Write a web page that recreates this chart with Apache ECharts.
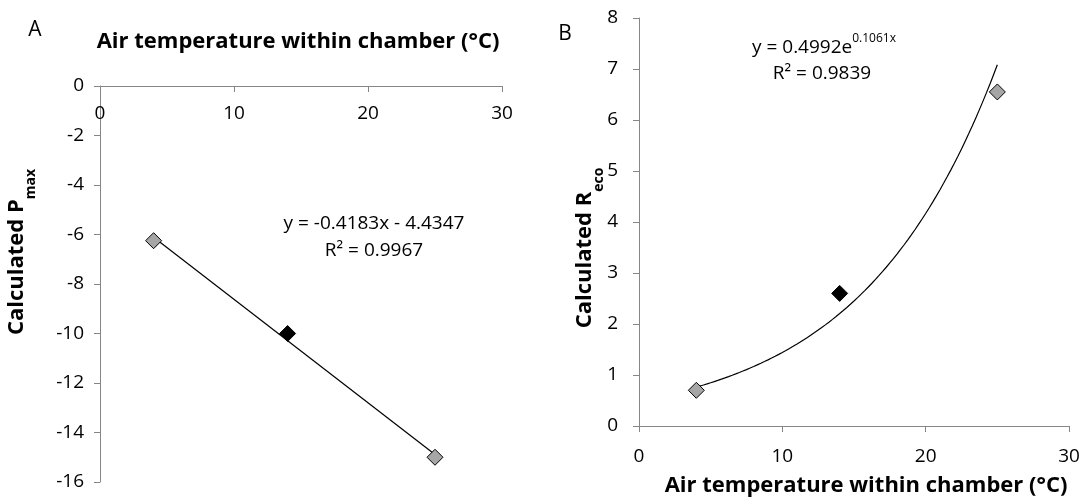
<!DOCTYPE html>
<html>
<head>
<meta charset="utf-8">
<script src="https://cdn.jsdelivr.net/npm/echarts@6/dist/echarts.min.js"></script>
<style>
  html, body { margin: 0; padding: 0; background: #ffffff; }
  #chart { width: 1083px; height: 502px; }
</style>
</head>
<body>
<div id="chart"></div>
<script>
// Panel A: calculated Pmax against air temperature within the chamber
const tempA = [4, 14, 25];
const pmaxA = [-6.25, -10, -15];
// Panel B: calculated Reco against air temperature within the chamber
const tempB = [4, 14, 25];
const recoB = [0.7, 2.6, 6.55];
// the middle treatment is drawn as a filled black diamond
const isHighlighted = [false, true, false];

// axis ranges
const xRange = { min: 0, max: 30, interval: 10 };
const yRangeA = { min: -16, max: 0, interval: 2 };
const yRangeB = { min: 0, max: 8, interval: 1 };

// fitted trend lines, as given by their equation labels
const linSlopeA = -0.4183;
const linInterceptA = -4.4347;
const r2A = '0.9967';
const expCoefB = 0.4992;
const expRateB = 0.1061;
const r2B = '0.9839';

const FONT = 'Open Sans';
const AXIS_GREY = '#868686';
const GREY_FILL = '#a6a6a6';

function pointData(xs, ys) {
  return xs.map((x, i) => ({
    value: [x, ys[i]],
    itemStyle: {
      color: isHighlighted[i] ? '#000000' : GREY_FILL,
      borderColor: '#000000',
      borderWidth: 1,
      opacity: 1
    }
  }));
}

// linear fit across the observed temperature span
const xLo = Math.min(...tempA), xHi = Math.max(...tempA);
const trendA = [xLo, xHi].map(x => [x, linSlopeA * x + linInterceptA]);

// exponential fit sampled across the observed temperature span
const trendB = [];
const bLo = Math.min(...tempB), bHi = Math.max(...tempB);
for (let k = 0; k <= 84; k++) {
  const x = bLo + (bHi - bLo) * k / 84;
  trendB.push([x, expCoefB * Math.exp(expRateB * x)]);
}

const tickLabel = { color: '#000000', fontFamily: FONT, fontSize: 19 };

const chart = echarts.init(document.getElementById('chart'), null, { renderer: 'canvas' });

chart.setOption({
  animation: false,
  backgroundColor: '#ffffff',
  grid: [
    { left: 100, top: 86, width: 402, height: 396, containLabel: false },
    { left: 639, top: 18, width: 430, height: 408, containLabel: false }
  ],
  xAxis: [
    {
      gridIndex: 0, type: 'value', position: 'top',
      min: xRange.min, max: xRange.max, interval: xRange.interval,
      axisLine: { show: true, onZero: false, lineStyle: { color: AXIS_GREY, width: 1 } },
      axisTick: { show: true, inside: true, length: 6, lineStyle: { color: AXIS_GREY } },
      axisLabel: Object.assign({ inside: true, margin: 18 }, tickLabel),
      splitLine: { show: false }
    },
    {
      gridIndex: 1, type: 'value', position: 'bottom',
      min: xRange.min, max: xRange.max, interval: xRange.interval,
      axisLine: { show: true, onZero: false, lineStyle: { color: AXIS_GREY, width: 1 } },
      axisTick: { show: true, inside: false, length: 6, lineStyle: { color: AXIS_GREY } },
      axisLabel: Object.assign({ margin: 21 }, tickLabel),
      splitLine: { show: false }
    }
  ],
  yAxis: [
    {
      gridIndex: 0, type: 'value',
      min: yRangeA.min, max: yRangeA.max, interval: yRangeA.interval,
      axisLine: { show: true, onZero: false, lineStyle: { color: AXIS_GREY, width: 1 } },
      axisTick: { show: true, length: 6, lineStyle: { color: AXIS_GREY } },
      axisLabel: Object.assign({ margin: 16 }, tickLabel),
      splitLine: { show: false }
    },
    {
      gridIndex: 1, type: 'value',
      min: yRangeB.min, max: yRangeB.max, interval: yRangeB.interval,
      axisLine: { show: true, onZero: false, lineStyle: { color: AXIS_GREY, width: 1 } },
      axisTick: { show: true, length: 6, lineStyle: { color: AXIS_GREY } },
      axisLabel: Object.assign({ margin: 21 }, tickLabel),
      splitLine: { show: false }
    }
  ],
  series: [
    {
      type: 'line', xAxisIndex: 0, yAxisIndex: 0, data: trendA,
      showSymbol: false, silent: true, z: 2,
      lineStyle: { color: '#000000', width: 1.2 }
    },
    {
      type: 'scatter', xAxisIndex: 0, yAxisIndex: 0, z: 3,
      symbol: 'diamond', symbolSize: 16,
      data: pointData(tempA, pmaxA)
    },
    {
      type: 'line', xAxisIndex: 1, yAxisIndex: 1, data: trendB,
      showSymbol: false, silent: true, z: 2,
      lineStyle: { color: '#000000', width: 1.2 }
    },
    {
      type: 'scatter', xAxisIndex: 1, yAxisIndex: 1, z: 3,
      symbol: 'diamond', symbolSize: 16,
      data: pointData(tempB, recoB)
    }
  ],
  graphic: [
    // panel letters
    { type: 'text', x: 35, y: 30, style: { text: 'A', fontFamily: FONT, fontSize: 21, fill: '#000', align: 'center', verticalAlign: 'middle' } },
    { type: 'text', x: 565, y: 34, style: { text: 'B', fontFamily: FONT, fontSize: 21, fill: '#000', align: 'center', verticalAlign: 'middle' } },
    // x-axis titles
    { type: 'text', x: 298, y: 42, style: { text: 'Air temperature within chamber (°C)', fontFamily: FONT, fontWeight: 'bold', fontSize: 22, fill: '#000', align: 'center', verticalAlign: 'middle' } },
    { type: 'text', x: 866, y: 486, style: { text: 'Air temperature within chamber (°C)', fontFamily: FONT, fontWeight: 'bold', fontSize: 22, fill: '#000', align: 'center', verticalAlign: 'middle' } },
    // y-axis titles with subscripts
    {
      type: 'text', x: 22, y: 252, rotation: Math.PI / 2,
      style: {
        text: '{a|Calculated P}{s|max}', align: 'center', verticalAlign: 'middle', fill: '#000',
        rich: {
          a: { fontFamily: FONT, fontWeight: 'bold', fontSize: 22, lineHeight: 26, verticalAlign: 'top' },
          s: { fontFamily: FONT, fontWeight: 'bold', fontSize: 14, lineHeight: 32, verticalAlign: 'bottom' }
        }
      }
    },
    {
      type: 'text', x: 590, y: 248, rotation: Math.PI / 2,
      style: {
        text: '{a|Calculated R}{s|eco}', align: 'center', verticalAlign: 'middle', fill: '#000',
        rich: {
          a: { fontFamily: FONT, fontWeight: 'bold', fontSize: 22, lineHeight: 26, verticalAlign: 'top' },
          s: { fontFamily: FONT, fontWeight: 'bold', fontSize: 14, lineHeight: 32, verticalAlign: 'bottom' }
        }
      }
    },
    // trend line equations
    { type: 'text', x: 374, y: 224, style: { text: 'y = ' + linSlopeA + 'x - ' + Math.abs(linInterceptA), fontFamily: FONT, fontSize: 19, fill: '#000', align: 'center', verticalAlign: 'middle' } },
    { type: 'text', x: 374, y: 251, style: { text: 'R² = ' + r2A, fontFamily: FONT, fontSize: 19, fill: '#000', align: 'center', verticalAlign: 'middle' } },
    {
      type: 'text', x: 824, y: 45,
      style: {
        text: '{m|y = ' + expCoefB + 'e}{p|' + expRateB + 'x}', align: 'center', verticalAlign: 'middle', fill: '#000',
        rich: {
          m: { fontFamily: FONT, fontSize: 19, lineHeight: 24, verticalAlign: 'bottom' },
          p: { fontFamily: FONT, fontSize: 12, lineHeight: 15, verticalAlign: 'top' }
        }
      }
    },
    { type: 'text', x: 822, y: 74, style: { text: 'R² = ' + r2B, fontFamily: FONT, fontSize: 19, fill: '#000', align: 'center', verticalAlign: 'middle' } }
  ]
});
</script>
</body>
</html>
